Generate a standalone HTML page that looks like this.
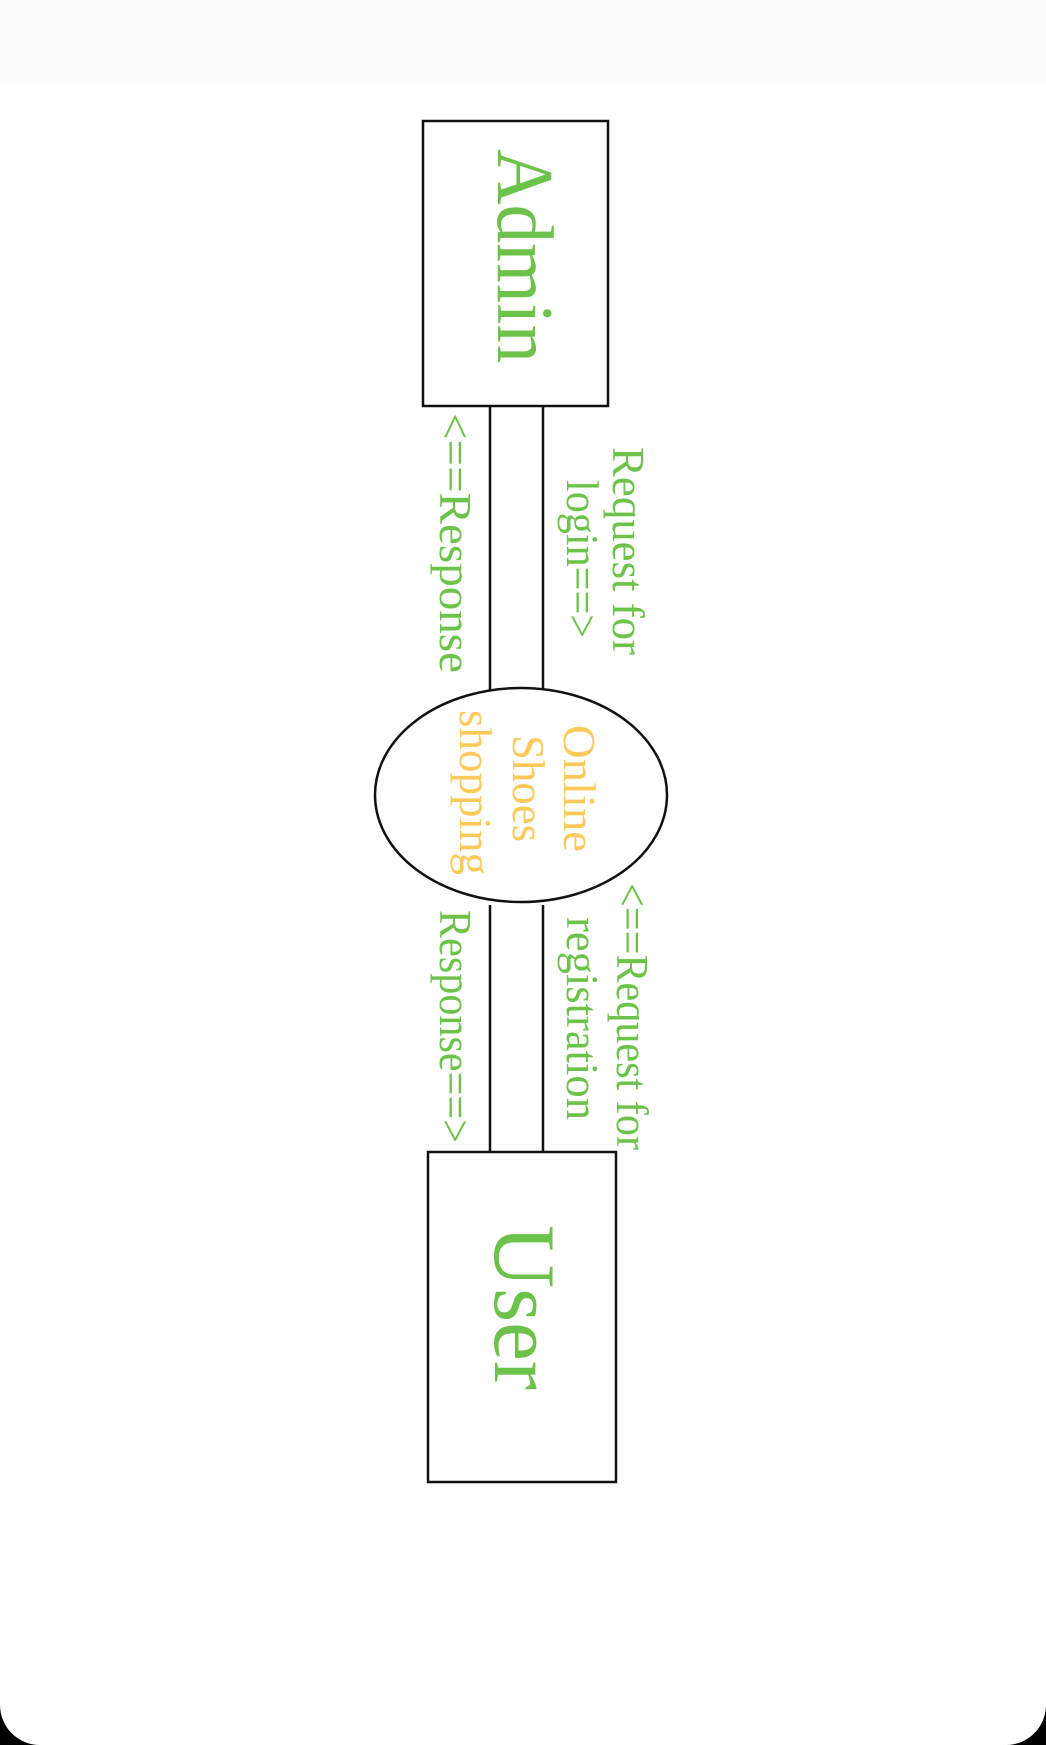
<!DOCTYPE html>
<html><head><meta charset="utf-8"><style>
html,body{margin:0;padding:0;background:#000;}
#c{width:1046px;height:1745px;background:#fff;border-radius:0 0 40px 40px;overflow:hidden;position:relative;}
svg{position:absolute;left:0;top:0;}
text{font-family:"Liberation Serif",serif;}
</style></head><body><div id="c">
<svg width="1046" height="1745" viewBox="0 0 1046 1745">
<rect x="0" y="0" width="1046" height="82" fill="#fcfcfc"/>
<g fill="none" stroke="#111" stroke-width="2.5">
<rect x="423" y="121" width="185" height="285"/>
<rect x="428" y="1152" width="188" height="330"/>
<line x1="490" y1="406" x2="490" y2="690"/>
<line x1="543" y1="406" x2="543" y2="690"/>
<line x1="490" y1="905" x2="490" y2="1152"/>
<line x1="543" y1="905" x2="543" y2="1152"/>
<ellipse cx="521" cy="795" rx="146" ry="107"/>
</g>
<g fill="#6cc24a">
<text transform="translate(498,149) rotate(90)" font-size="80" textLength="214" lengthAdjust="spacingAndGlyphs">Admin</text>
<text transform="translate(495,1225) rotate(90)" font-size="88" textLength="165" lengthAdjust="spacingAndGlyphs">User</text>
<text transform="translate(440,413) rotate(90)" font-size="46" textLength="260" lengthAdjust="spacingAndGlyphs">&lt;==Response</text>
<text transform="translate(613,447) rotate(90)" font-size="46" textLength="208" lengthAdjust="spacingAndGlyphs">Request for</text>
<text transform="translate(567,480) rotate(90)" font-size="46" textLength="158" lengthAdjust="spacingAndGlyphs">login==&gt;</text>
<text transform="translate(440,910) rotate(90)" font-size="46" textLength="233" lengthAdjust="spacingAndGlyphs">Response==&gt;</text>
<text transform="translate(567,917) rotate(90)" font-size="46" textLength="203" lengthAdjust="spacingAndGlyphs">registration</text>
<text transform="translate(617,883) rotate(90)" font-size="46" textLength="267" lengthAdjust="spacingAndGlyphs">&lt;==Request for</text>
</g>
<g fill="#fdc95b">
<text transform="translate(564,725) rotate(90)" font-size="46" textLength="127" lengthAdjust="spacingAndGlyphs">Online</text>
<text transform="translate(513,735) rotate(90)" font-size="46" textLength="107" lengthAdjust="spacingAndGlyphs">Shoes</text>
<text transform="translate(460,710) rotate(90)" font-size="46" textLength="165" lengthAdjust="spacingAndGlyphs">shopping</text>
</g>
</svg>
</div></body></html>
